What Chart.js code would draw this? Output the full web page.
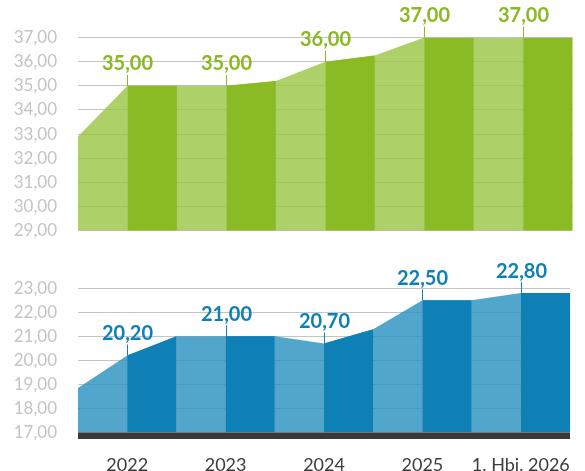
<!DOCTYPE html>
<html lang="de">
<head>
    <meta charset="UTF-8">
    <title>Entwicklung</title>
    <script src="https://cdn.jsdelivr.net/npm/chart.js"></script>
    <style>
        body { margin: 0; background: #fff; }
        #wrap { position: relative; width: 585px; height: 471px; }
        #topChart { position: absolute; left: 0; top: 0; }
        #bottomChart { position: absolute; left: 0; top: 240px; }
    </style>
</head>
<body>
<div id="wrap">
    <!-- top canvas is a bit taller: the hidden x axis still eats ~22px at the bottom -->
    <canvas id="topChart" width="585" height="262"></canvas>
    <canvas id="bottomChart" width="585" height="231"></canvas>
</div>

<script>
    // x positions are half-year steps, labelled years sit on the odd steps
    const yearLabels = ['2022', '2023', '2024', '2025', '1. Hbj. 2026'];
    const labelIdx = [1, 3, 5, 7, 9];
    const topValues = [32.9, 35, 35, 35, 35.2, 36, 36.25, 37, 37, 37, 37];
    const bottomValues = [18.85, 20.2, 21, 21, 21, 20.7, 21.3, 22.5, 22.5, 22.8, 22.8];

    Chart.defaults.font.family = 'Lato, "Open Sans", sans-serif';

    const fmt = v => v.toFixed(2).replace('.', ',');

    // draws "35,00" style labels with a little tick down to the point
    const valueLabels = {
        id: 'valueLabels',
        afterDatasetsDraw(chart, args, opts) {
            const ctx = chart.ctx;
            const xs = chart.scales.x, ys = chart.scales.y;
            ctx.save();
            ctx.strokeStyle = opts.color;
            ctx.fillStyle = opts.color;
            ctx.lineWidth = 1;
            ctx.font = 'bold 20px Lato, "Open Sans", sans-serif';
            ctx.textAlign = 'center';
            ctx.textBaseline = 'middle';
            labelIdx.forEach(i => {
                const x = Math.round(xs.getPixelForValue(i)) + 0.5;
                const y = ys.getPixelForValue(opts.values[i]);
                ctx.beginPath();
                ctx.moveTo(x, y - 11);
                ctx.lineTo(x, y);
                ctx.stroke();
                ctx.fillText(fmt(opts.values[i]), x, y - 22);
            });
            ctx.restore();
        }
    };

    // dark band under the lower panel
    const baseBand = {
        id: 'baseBand',
        afterDatasetsDraw(chart, args, opts) {
            if (!opts.show) return;
            const a = chart.chartArea;
            chart.ctx.save();
            chart.ctx.fillStyle = '#3a3938';
            chart.ctx.fillRect(a.left, a.bottom, a.right - a.left, 6.5);
            chart.ctx.restore();
        }
    };

    function makePanel(id, values, light, dark, labelColor, yMin, yMax, padTop, showX) {
        const pts = values.map((v, i) => ({ x: i, y: v }));
        const datasets = [{
            data: pts,
            fill: 'start',
            backgroundColor: light,
            borderColor: 'transparent',
            borderWidth: 0,
            pointRadius: 0,
            tension: 0,
            order: 2
        }];
        // dark segments after each labelled point
        labelIdx.forEach(i => {
            datasets.push({
                data: [pts[i], pts[i + 1]],
                fill: 'start',
                backgroundColor: dark,
                borderColor: 'transparent',
                borderWidth: 0,
                pointRadius: 0,
                tension: 0,
                order: 1
            });
        });

        return new Chart(document.getElementById(id), {
            type: 'line',
            data: { datasets: datasets },
            options: {
                responsive: false,
                animation: false,
                layout: { padding: { left: 0, right: 12.3, top: padTop, bottom: showX ? 0 : 9 } },
                plugins: {
                    legend: { display: false },
                    tooltip: { enabled: false },
                    valueLabels: { values: values, color: labelColor },
                    baseBand: { show: showX }
                },
                scales: {
                    x: {
                        type: 'linear',
                        display: showX,
                        min: 0,
                        max: 10,
                        grid: { display: false },
                        border: { display: false },
                        afterBuildTicks: axis => { axis.ticks = labelIdx.map(v => ({ value: v })); },
                        afterFit: scale => { scale.height = showX ? 38.5 : 0; },
                        ticks: {
                            autoSkip: false,
                            maxRotation: 0,
                            padding: 14,
                            color: '#3c3c3c',
                            font: { size: 18 },
                            callback: v => yearLabels[labelIdx.indexOf(v)]
                        }
                    },
                    y: {
                        min: yMin,
                        max: yMax,
                        afterFit: scale => { scale.width = 78; },
                        grid: { color: '#c4c4c4', lineWidth: 1, drawTicks: false },
                        border: { display: false },
                        ticks: {
                            stepSize: 1,
                            autoSkip: false,
                            padding: 21,
                            color: '#c4c4c4',
                            font: { size: 17 },
                            callback: v => fmt(v)
                        }
                    }
                }
            },
            plugins: [valueLabels, baseBand]
        });
    }

    makePanel('topChart', topValues, 'rgba(154,196,66,0.8)', '#8aba24', '#8ab924', 29, 37, 37.5, false);
    makePanel('bottomChart', bottomValues, 'rgba(39,143,190,0.8)', '#0f80b5', '#0f80b5', 17, 23, 48.3, true);
</script>
</body>
</html>
